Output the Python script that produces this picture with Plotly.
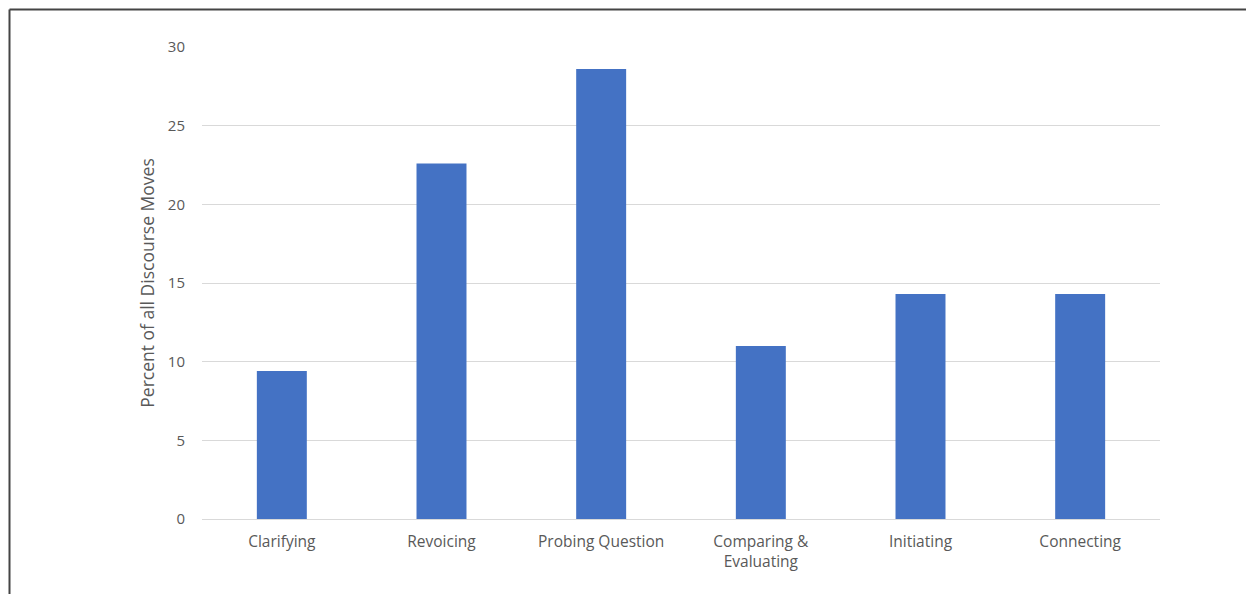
import plotly.graph_objects as go

categories = ["Clarifying", "Revoicing", "Probing Question", "Comparing &<br>Evaluating", "Initiating", "Connecting"]
values = [9.4, 22.6, 28.6, 11.0, 14.3, 14.3]
y_ticks = [0, 5, 10, 15, 20, 25, 30]

W, H = 1246, 594
L, R, T, B = 202, 86, 47, 75
pw, ph = W - L - R, H - T - B

fig = go.Figure(go.Bar(x=categories, y=values, marker=dict(color="#4472C4", line=dict(width=0)), width=0.313))

xfont = dict(family="'Open Sans', sans-serif", size=15.5, color="#595959")
yfont = dict(family="'Open Sans', sans-serif", size=15, color="#595959")
title_font = dict(family="'Open Sans', sans-serif", size=17.5, color="#595959")
fig.update_layout(
    width=W, height=H,
    margin=dict(l=L, r=R, t=T, b=B),
    paper_bgcolor="white", plot_bgcolor="white",
    font=yfont,
    showlegend=False,
    bargap=0.687,
    xaxis=dict(showgrid=False, showline=False, ticks="", tickfont=xfont, ticklabelstandoff=11),
    yaxis=dict(range=[0, 30], tickvals=y_ticks, showgrid=True, gridcolor="#d9d9d9", gridwidth=1,
               zeroline=True, zerolinecolor="#d9d9d9", zerolinewidth=1, showline=False,
               ticks="", ticklabelstandoff=16, tickfont=yfont,
               title=dict(text="Percent of all Discourse Moves", font=title_font, standoff=8)),
)

fx = lambda px: (px - L) / pw
fy = lambda py: 1 - (py - T) / ph
fig.add_shape(type="line", xref="paper", yref="paper", x0=fx(9.5), x1=fx(W + 5), y0=fy(9.5), y1=fy(9.5),
              line=dict(color="#444444", width=2))
fig.add_shape(type="line", xref="paper", yref="paper", x0=fx(9.5), x1=fx(9.5), y0=fy(9.5), y1=fy(H + 5),
              line=dict(color="#444444", width=2))

fig.write_html("out.html")
